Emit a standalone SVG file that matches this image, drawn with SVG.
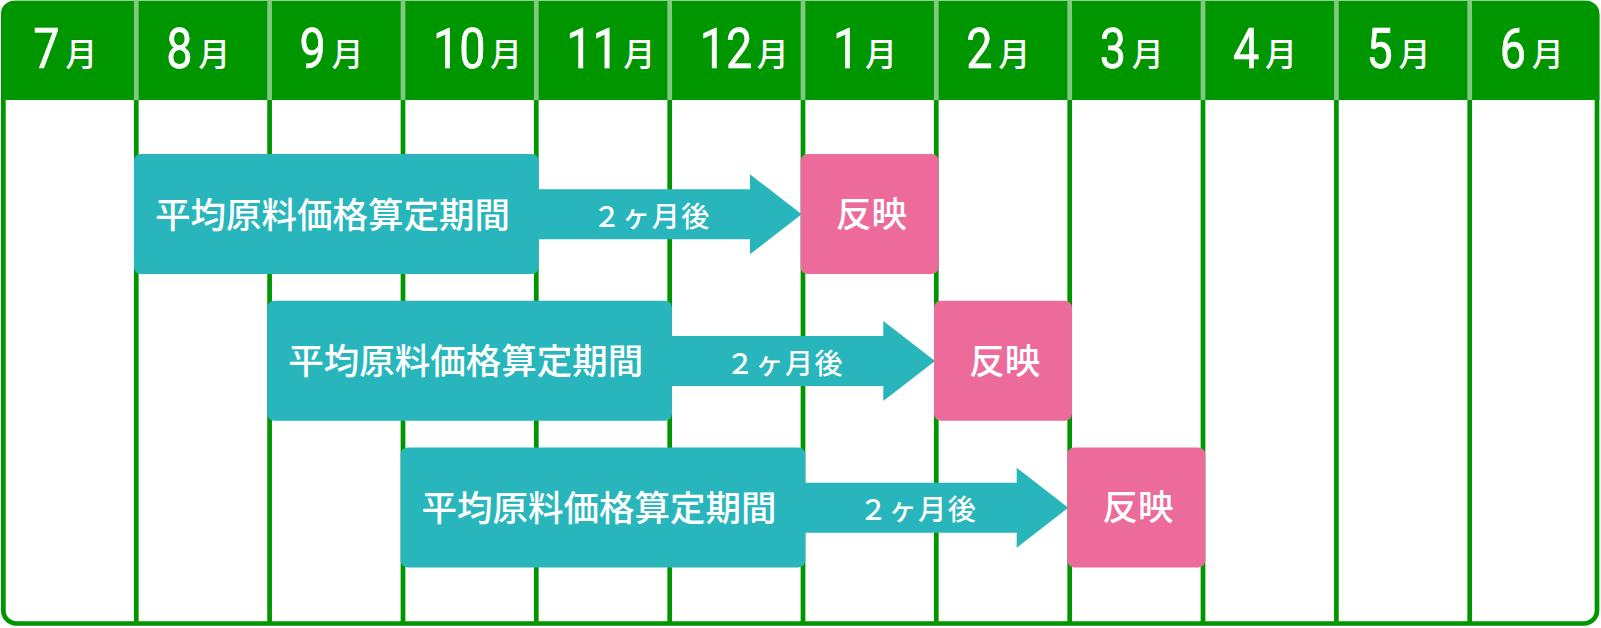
<svg xmlns="http://www.w3.org/2000/svg" width="1601" height="628" viewBox="0 0 1601 628">
<style>
.frame{fill:#ffffff;stroke:#009600;stroke-width:4.7}
.hdr{fill:#009600}
.divh{stroke:#80c980;stroke-width:4.7}
.divb{stroke:#009600;stroke-width:4.7}
.num{font-family:Roboto,"Liberation Sans",sans-serif;font-weight:400;font-size:55px;fill:#ffffff;stroke:#ffffff;stroke-width:0.6}
.mon{font-family:"Noto Sans CJK JP",sans-serif;font-weight:500;font-size:32px;fill:#ffffff}
.period{fill:#28b6bc}
.refl{fill:#ed6b9b}
.lbl{font-family:"Noto Sans CJK JP",sans-serif;font-weight:500;font-size:35.5px;fill:#ffffff;text-anchor:middle}
.alb{font-family:"Noto Sans CJK JP",sans-serif;font-weight:500;font-size:28px;fill:#ffffff;text-anchor:middle;letter-spacing:1.5px}
</style>
<g id="calendar">
<rect class="frame" x="3.35" y="3" width="1593.65" height="620.5" rx="13"/>
<path class="hdr" d="M1,100 L1,13.7 A13,13 0 0 1 14,0.7 L1586.4,0.7 A13,13 0 0 1 1599.4,13.7 L1599.4,100 Z"/>
<g id="dividers">
<line class="divh" x1="136.3" y1="0.7" x2="136.3" y2="100"/><line class="divb" x1="136.3" y1="100" x2="136.3" y2="622"/>
<line class="divh" x1="269.6" y1="0.7" x2="269.6" y2="100"/><line class="divb" x1="269.6" y1="100" x2="269.6" y2="622"/>
<line class="divh" x1="403" y1="0.7" x2="403" y2="100"/><line class="divb" x1="403" y1="100" x2="403" y2="622"/>
<line class="divh" x1="536.3" y1="0.7" x2="536.3" y2="100"/><line class="divb" x1="536.3" y1="100" x2="536.3" y2="622"/>
<line class="divh" x1="669.7" y1="0.7" x2="669.7" y2="100"/><line class="divb" x1="669.7" y1="100" x2="669.7" y2="622"/>
<line class="divh" x1="803" y1="0.7" x2="803" y2="100"/><line class="divb" x1="803" y1="100" x2="803" y2="622"/>
<line class="divh" x1="936.3" y1="0.7" x2="936.3" y2="100"/><line class="divb" x1="936.3" y1="100" x2="936.3" y2="622"/>
<line class="divh" x1="1069.7" y1="0.7" x2="1069.7" y2="100"/><line class="divb" x1="1069.7" y1="100" x2="1069.7" y2="622"/>
<line class="divh" x1="1203" y1="0.7" x2="1203" y2="100"/><line class="divb" x1="1203" y1="100" x2="1203" y2="622"/>
<line class="divh" x1="1336.4" y1="0.7" x2="1336.4" y2="100"/><line class="divb" x1="1336.4" y1="100" x2="1336.4" y2="622"/>
<line class="divh" x1="1469.7" y1="0.7" x2="1469.7" y2="100"/><line class="divb" x1="1469.7" y1="100" x2="1469.7" y2="622"/>
</g>
</g>
<g id="months">
<g transform="translate(33.35,68)"><text class="num" transform="scale(0.85,1)">7</text><text class="mon" x="32" y="-2">月</text></g>
<g transform="translate(166.3,68)"><text class="num" transform="scale(0.85,1)">8</text><text class="mon" x="32" y="-2">月</text></g>
<g transform="translate(299.6,68)"><text class="num" transform="scale(0.85,1)">9</text><text class="mon" x="32" y="-2">月</text></g>
<g transform="translate(433,68)"><text class="num" transform="scale(0.85,1)">10</text><text class="mon" x="57" y="-2">月</text></g>
<g transform="translate(566.3,68)"><text class="num" transform="scale(0.85,1)">11</text><text class="mon" x="57" y="-2">月</text></g>
<g transform="translate(699.7,68)"><text class="num" transform="scale(0.85,1)">12</text><text class="mon" x="57" y="-2">月</text></g>
<g transform="translate(833,68)"><text class="num" transform="scale(0.85,1)">1</text><text class="mon" x="32" y="-2">月</text></g>
<g transform="translate(966.3,68)"><text class="num" transform="scale(0.85,1)">2</text><text class="mon" x="32" y="-2">月</text></g>
<g transform="translate(1099.7,68)"><text class="num" transform="scale(0.85,1)">3</text><text class="mon" x="32" y="-2">月</text></g>
<g transform="translate(1233,68)"><text class="num" transform="scale(0.85,1)">4</text><text class="mon" x="32" y="-2">月</text></g>
<g transform="translate(1366.4,68)"><text class="num" transform="scale(0.85,1)">5</text><text class="mon" x="32" y="-2">月</text></g>
<g transform="translate(1499.7,68)"><text class="num" transform="scale(0.85,1)">6</text><text class="mon" x="32" y="-2">月</text></g>
</g>
<g id="connectors">
<path class="period" d="M530,189.3 H750 V174.3 L801.7,214.3 L750,254.3 V239.3 H530 Z"/>
<path class="period" d="M663,336 H883.3 V321 L935,361 L883.3,401 V386 H663 Z"/>
<path class="period" d="M796,482.7 H1016.7 V467.7 L1068.3,507.7 L1016.7,547.7 V532.7 H796 Z"/>
<text class="alb" x="651.7" y="227">２ヶ月後</text>
<text class="alb" x="785" y="373.7">２ヶ月後</text>
<text class="alb" x="918.3" y="520.4">２ヶ月後</text>
</g>
<g id="period1"><rect class="period" x="133.95" y="154" width="404.7" height="120" rx="7"/><text class="lbl" x="332.4" y="227.5">平均原料価格算定期間</text></g>
<g id="reflect1"><rect class="refl" x="800.65" y="154" width="138" height="120" rx="7"/><text class="lbl" x="871.4" y="227">反映</text></g>
<g id="period2"><rect class="period" x="267.3" y="300.7" width="404.7" height="120" rx="7"/><text class="lbl" x="465.7" y="374.2">平均原料価格算定期間</text></g>
<g id="reflect2"><rect class="refl" x="934" y="300.7" width="138" height="120" rx="7"/><text class="lbl" x="1004.7" y="373.7">反映</text></g>
<g id="period3"><rect class="period" x="400.6" y="447.4" width="404.7" height="120" rx="7"/><text class="lbl" x="599" y="520.9">平均原料価格算定期間</text></g>
<g id="reflect3"><rect class="refl" x="1067.3" y="447.4" width="138" height="120" rx="7"/><text class="lbl" x="1138" y="520.4">反映</text></g>
</svg>
